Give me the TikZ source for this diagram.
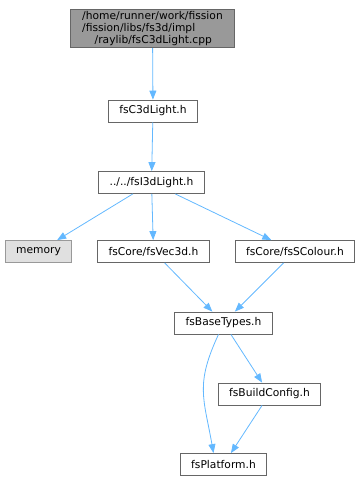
\documentclass[tikz,border=0pt]{standalone}
\usepackage{fontspec}
\setmainfont{DejaVu Sans}
\usepackage{xcolor}
\usetikzlibrary{
    arrows.meta,
    positioning
}
\definecolor{dxEdge}{HTML}{63B8FF}
\definecolor{dxBorder}{HTML}{666666}
\definecolor{dxMain}{HTML}{999999}
\definecolor{dxSys}{HTML}{E0E0E0}
\tikzset{
  file/.style     = {draw=dxBorder, fill=white, line width=0.8pt,
                     minimum height=22pt, inner xsep=11pt, inner ysep=2pt,
                     font=\fontsize{10.7}{12}\selectfont},
  mainfile/.style = {file, fill=dxMain, align=left, inner xsep=11.5pt},
  sysfile/.style  = {file, draw=dxMain, fill=dxSys},
  arr/.style      = {-{Triangle[length=9pt,width=7pt]}, dxEdge, line width=0.8pt}
}

\begin{document}
\begin{tikzpicture}[x=1pt,y=-1pt]
    \useasboundingbox (0,0) rectangle (363,481);

    \node[mainfile] (Cpp)         at (152.5,28.5) {/home/runner/work/fission\\/fission/libs/fs3d/impl\\\hspace*{12.5pt}/raylib/fsC3dLight.cpp};
    \node[file]     (C3dLight)    at (153,111)    {fsC3dLight.h};
    \node[file]     (I3dLight)    at (151.5,182.5) {../../fsI3dLight.h};
    \node[sysfile]  (Memory)      at (38.5,251.5) {memory};
    \node[file]     (Vec3d)       at (153.5,251.5) {fsCore/fsVec3d.h};
    \node[file]     (SColour)     at (295,251.5)  {fsCore/fsSColour.h};
    \node[file]     (BaseTypes)   at (223.5,323)  {fsBaseTypes.h};
    \node[file]     (BuildConfig) at (269.5,394)  {fsBuildConfig.h};
    \node[file]     (Platform)    at (223.5,464.5) {fsPlatform.h};

    \draw[arr] (Cpp)         -- (C3dLight);
    \draw[arr] (C3dLight)    -- (I3dLight);
    \draw[arr] (I3dLight)    -- (Memory);
    \draw[arr] (I3dLight)    -- (Vec3d);
    \draw[arr] (I3dLight)    -- (SColour);
    \draw[arr] (Vec3d)       -- (BaseTypes);
    \draw[arr] (SColour)     -- (BaseTypes);
    \draw[arr] (BaseTypes)   -- (BuildConfig);
    \draw[arr] ([xshift=-5pt]BaseTypes.south)
      to[out=-115,in=100,looseness=1.2] ([xshift=-10pt]Platform.north);
    \draw[arr] (BuildConfig) -- (Platform);
\end{tikzpicture}
\end{document}
